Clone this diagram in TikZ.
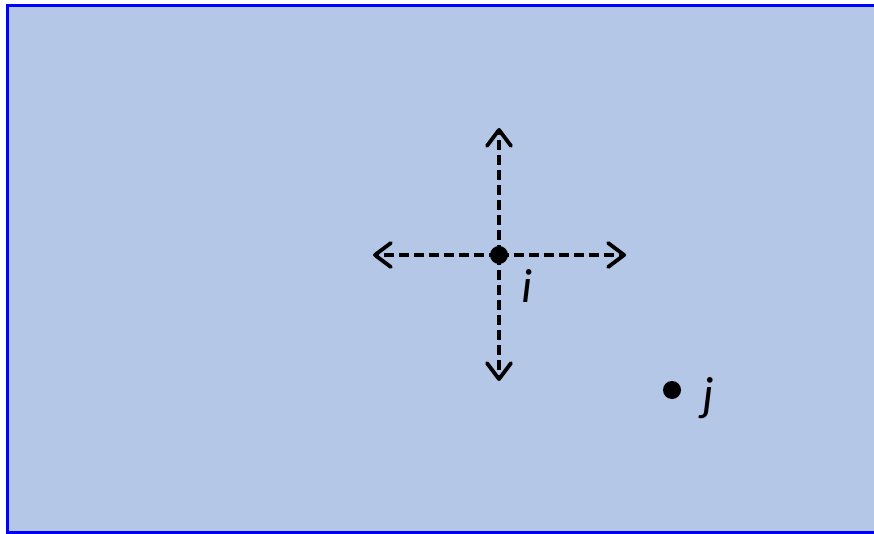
\documentclass[tikz,border=0pt]{standalone}
\usepackage{fontspec}
\setmainfont{Carlito}
\usetikzlibrary{arrows.meta}
\definecolor{panelfill}{RGB}{180,199,231}
\definecolor{panelline}{RGB}{0,0,255}

\begin{document}
\begin{tikzpicture}[
  x=1pt, y=-1pt,
  >={Straight Barb[length=16pt, width=24pt, line width=3.8pt, line cap=round, line join=round]},
  site/.style={circle, fill=black, inner sep=0pt, minimum size=18pt},
  lbl/.style={font=\fontsize{48}{52}\selectfont\itshape, inner sep=0pt},
  move/.style={->, line width=3.6pt, dash pattern=on 10pt off 5pt},
]
\useasboundingbox (0,0) rectangle (874,534);

% ==================== panel ====================
\fill[panelfill] (7.5,5.5) rectangle (874,532.5);
\draw[panelline, line width=2.5pt] (874,5.5) -- (7.5,5.5) -- (7.5,532.5) -- (874,532.5);

% ==================== site i and its moves ====================
\node[site] (i) at (499,255) {};
\coordinate (iW) at (373,255);
\coordinate (iE) at (626,255);
\coordinate (iN) at (499,128);
\coordinate (iS) at (499,381);
\draw[move] (i.center) -- (iW);
\draw[move] (i.center) -- (iE);
\draw[move] (i.center) -- (iN);
\draw[move] (i.center) -- (iS);
\node[lbl] (ilbl) at (527,286) {i};

% ==================== site j ====================
\node[site] (j) at (672,390) {};
\node[lbl] (jlbl) at (708,398) {j};

\end{tikzpicture}
\end{document}
